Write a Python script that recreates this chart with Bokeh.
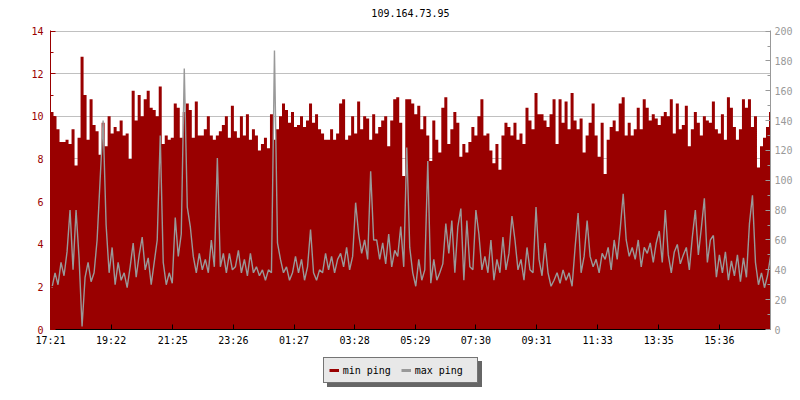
from bokeh.plotting import figure
from bokeh.models import (Range1d, LinearAxis, FixedTicker, Legend, LegendItem,
                          ColumnDataSource, Grid, Label)
from bokeh.layouts import column
from bokeh.embed import file_html
from bokeh.resources import INLINE

TITLE = "109.164.73.95"
TICK_LABELS = ["17:21", "19:22", "21:25", "23:26", "01:27", "03:28",
               "05:29", "07:30", "09:31", "11:33", "13:35", "15:36"]
SAMPLE_MINUTES = 6
SPAN_MINUTES = 1437

LEFT_MAX = 14
RIGHT_MAX = 200
LEFT_TICKS = [0, 2, 4, 6, 8, 10, 12, 14]
LEFT_MINOR = [1, 3, 5, 7, 9, 11, 13]
RIGHT_TICKS = [0, 20, 40, 60, 80, 100, 120, 140, 160, 180, 200]
RIGHT_MINOR = [10, 30, 50, 70, 90, 110, 130, 150, 170, 190]

MIN_PING = [
    10.2, 10.0, 9.4, 8.8, 8.8, 8.9, 8.7, 9.4, 7.7, 9.0,
    12.8, 11.0, 8.9, 10.8, 9.6, 9.3, 8.2, 9.7, 8.6, 10.0,
    9.2, 9.5, 9.3, 9.8, 9.1, 9.2, 8.0, 11.2, 9.8, 11.0,
    10.0, 10.8, 11.2, 10.4, 10.3, 10.0, 11.4, 8.7, 9.1, 8.9,
    9.0, 10.6, 10.4, 9.0, 10.2, 10.6, 10.3, 9.0, 10.7, 9.1,
    9.1, 9.4, 10.0, 9.1, 8.9, 9.1, 9.3, 9.6, 10.0, 9.0,
    10.5, 9.3, 9.0, 10.0, 9.1, 10.1, 8.9, 9.4, 9.1, 8.4,
    8.7, 9.0, 8.5, 10.1, 8.9, 9.4, 10.0, 10.6, 10.3, 9.7,
    10.2, 9.5, 9.6, 10.0, 9.5, 9.8, 10.6, 9.7, 10.1, 9.4,
    9.2, 8.9, 8.9, 9.4, 8.9, 9.2, 10.6, 10.8, 8.9, 9.1,
    10.0, 9.2, 10.7, 9.4, 10.0, 9.9, 8.9, 10.1, 9.2, 9.5,
    9.8, 10.0, 8.6, 9.8, 10.8, 10.9, 9.7, 7.2, 10.8, 10.8,
    10.6, 10.1, 10.5, 9.4, 10.0, 9.1, 7.9, 9.8, 8.9, 8.3,
    10.4, 10.9, 8.7, 9.4, 10.2, 9.7, 8.1, 8.7, 8.3, 8.8,
    9.5, 9.1, 10.0, 10.8, 9.1, 9.2, 8.4, 7.8, 8.7, 7.5,
    9.1, 9.7, 9.5, 9.1, 9.7, 8.9, 9.2, 8.7, 10.4, 9.8,
    9.4, 11.1, 10.1, 10.1, 9.8, 9.5, 10.1, 10.8, 8.7, 10.8,
    9.7, 10.7, 9.4, 11.1, 9.8, 9.4, 9.9, 8.3, 9.1, 9.7,
    10.6, 9.1, 8.1, 9.7, 7.3, 8.9, 9.5, 9.8, 9.3, 10.6,
    10.9, 9.1, 9.7, 9.1, 9.4, 10.4, 9.4, 10.8, 10.4, 9.8,
    10.1, 9.9, 9.6, 10.0, 10.2, 10.0, 10.8, 9.2, 10.6, 9.4,
    9.6, 10.5, 8.6, 9.4, 10.2, 9.7, 9.1, 10.0, 9.8, 9.7,
    10.7, 9.4, 9.2, 10.1, 8.9, 10.9, 10.4, 9.5, 8.9, 9.4,
    10.8, 10.4, 10.8, 9.5, 10.0, 7.6, 8.6, 9.0, 9.5, 10.2,
]

MAX_PING = [
    28, 38, 30, 45, 36, 52, 80, 40, 80, 48,
    2, 35, 45, 32, 38, 60, 100, 140, 70, 38,
    55, 30, 45, 33, 38, 28, 42, 58, 35, 50,
    62, 40, 48, 30, 45, 60, 130, 45, 30, 38,
    31, 75, 49, 64, 175, 82, 69, 49, 38, 51,
    40, 47, 38, 60, 42, 115, 42, 51, 38, 51,
    40, 42, 53, 38, 47, 36, 51, 38, 42, 36,
    40, 33, 40, 38, 187, 58, 47, 38, 42, 33,
    38, 49, 38, 47, 33, 42, 67, 38, 33, 40,
    38, 51, 40, 49, 38, 47, 51, 42, 55, 40,
    49, 85, 64, 51, 60, 47, 106, 60, 60, 47,
    58, 44, 64, 42, 53, 49, 69, 42, 122, 55,
    38, 29, 47, 33, 40, 113, 31, 47, 33, 38,
    44, 71, 51, 73, 38, 69, 81, 33, 73, 42,
    40, 80, 64, 40, 49, 38, 60, 33, 47, 38,
    62, 40, 51, 76, 60, 40, 47, 33, 55, 40,
    38, 82, 47, 36, 58, 38, 29, 33, 38, 31,
    40, 33, 38, 29, 55, 78, 38, 49, 73, 49,
    42, 47, 38, 51, 47, 55, 40, 60, 47, 67,
    91, 60, 49, 55, 47, 60, 42, 55, 51, 58,
    45, 58, 66, 45, 80, 50, 38, 52, 57, 44,
    50, 55, 40, 62, 80, 50, 68, 88, 45, 60,
    63, 35, 50, 38, 52, 33, 46, 36, 50, 32,
    48, 35, 71, 90, 45, 30, 38, 28, 36, 49,
]

RED = "#990000"
GRAY = "#999999"
FONT = "DejaVu Sans Mono"
FS = "10px"


def clock_minutes(label):
    h, m = label.split(":")
    return int(h) * 60 + int(m)


start = clock_minutes(TICK_LABELS[0])
tick_pos = [(clock_minutes(t) - start) % 1440 for t in TICK_LABELS]
overrides = {pos: lab for pos, lab in zip(tick_pos, TICK_LABELS)}

n = len(MIN_PING)
x_edges = [i * SAMPLE_MINUTES for i in range(n + 1)]
x_mid = [i * SAMPLE_MINUTES + SAMPLE_MINUTES / 2 for i in range(n)]
area_src = ColumnDataSource(dict(x=x_edges, y=MIN_PING + [MIN_PING[-1]]))
line_src = ColumnDataSource(dict(x=x_mid, y=MAX_PING))


def strip(height):
    f = figure(width=800, height=height, output_backend="svg",
               toolbar_location=None, x_range=Range1d(0, 1),
               y_range=Range1d(0, 1), x_axis_location=None,
               y_axis_location=None, min_border_left=0, min_border_right=0,
               min_border_top=0, min_border_bottom=0)
    f.xgrid.visible = False
    f.ygrid.visible = False
    f.outline_line_color = None
    f.border_fill_color = "white"
    f.background_fill_color = "white"
    return f


# title strip (frame aligned with the chart frame)
tf = strip(22)
tf.add_layout(Label(x=360, y=9.5, x_units="screen", y_units="screen",
                    text=TITLE, text_font=FONT, text_font_size=FS,
                    text_align="center", text_baseline="middle",
                    text_color="black"))

# tiny headroom so the top grid line (at 14 / 200) is drawn inside the frame
pad = 1.002
p = figure(width=800, height=326, output_backend="svg", toolbar_location=None,
           x_range=Range1d(0, SPAN_MINUTES), y_range=Range1d(0, LEFT_MAX * pad),
           x_axis_location=None, y_axis_location=None,
           min_border_left=50, min_border_right=30, min_border_top=8,
           min_border_bottom=18)
p.xgrid.visible = False
p.ygrid.visible = False
p.extra_y_ranges = {"ping": Range1d(0, RIGHT_MAX * pad)}
p.outline_line_color = None
p.background_fill_color = "white"
p.border_fill_color = "white"

p.add_layout(Grid(dimension=1, ticker=FixedTicker(ticks=LEFT_TICKS),
                  grid_line_color="#c0c0c0", grid_line_width=1))

p.varea_step(x="x", y1=0, y2="y", step_mode="after", source=area_src,
             fill_color=RED)
p.line(x="x", y="y", source=line_src, y_range_name="ping", line_color=GRAY,
       line_width=1.4)

# axes
left = LinearAxis(ticker=FixedTicker(ticks=LEFT_TICKS, minor_ticks=LEFT_MINOR))
right = LinearAxis(y_range_name="ping",
                   ticker=FixedTicker(ticks=RIGHT_TICKS, minor_ticks=RIGHT_MINOR))
bottom = LinearAxis(ticker=FixedTicker(ticks=tick_pos),
                    major_label_overrides=overrides)
for ax, col in ((left, RED), (right, GRAY), (bottom, "black")):
    ax.axis_line_color = col
    ax.major_tick_line_color = col
    ax.minor_tick_line_color = col
    ax.major_label_text_color = col
    ax.major_label_text_font = FONT
    ax.major_label_text_font_size = FS
    ax.major_tick_in = 5
    ax.major_tick_out = 0
    ax.minor_tick_in = 3
    ax.minor_tick_out = 0
left.major_label_standoff = 7
right.major_label_standoff = 4
bottom.major_label_standoff = 5
bottom.minor_tick_line_color = None
p.add_layout(left, "left")
p.add_layout(right, "right")
p.add_layout(bottom, "below")

# legend strip below the chart
lg = strip(52)
r_min = lg.line(x=[-5, -4], y=[-5, -5], line_color=RED, line_width=3)
r_max = lg.line(x=[-5, -4], y=[-5, -5], line_color=GRAY, line_width=3)


def make_legend(loc, labels, bg, border, text_col):
    return Legend(items=[LegendItem(label=labels[0], renderers=[r_min]),
                         LegendItem(label=labels[1], renderers=[r_max])],
                  location=loc, orientation="horizontal",
                  background_fill_color=bg, background_fill_alpha=1.0,
                  border_line_color=border, border_line_width=1,
                  label_text_font=FONT, label_text_font_size=FS,
                  label_text_color=text_col,
                  glyph_width=10, glyph_height=14, label_height=14,
                  label_width=57, label_standoff=4, spacing=1,
                  padding=5, margin=0)


# drop shadow, then the legend itself on top
lg.add_layout(make_legend((276.7, 12.7), [" ", " "], "#666666", "#666666",
                          "#666666"))
lg.add_layout(make_legend((272.7, 16.7), ["min ping", "max ping"], "#e8e8e8",
                          "black", "black"))

layout = column(tf, p, lg, spacing=0)
open("out.html", "w").write(file_html(layout, INLINE))
